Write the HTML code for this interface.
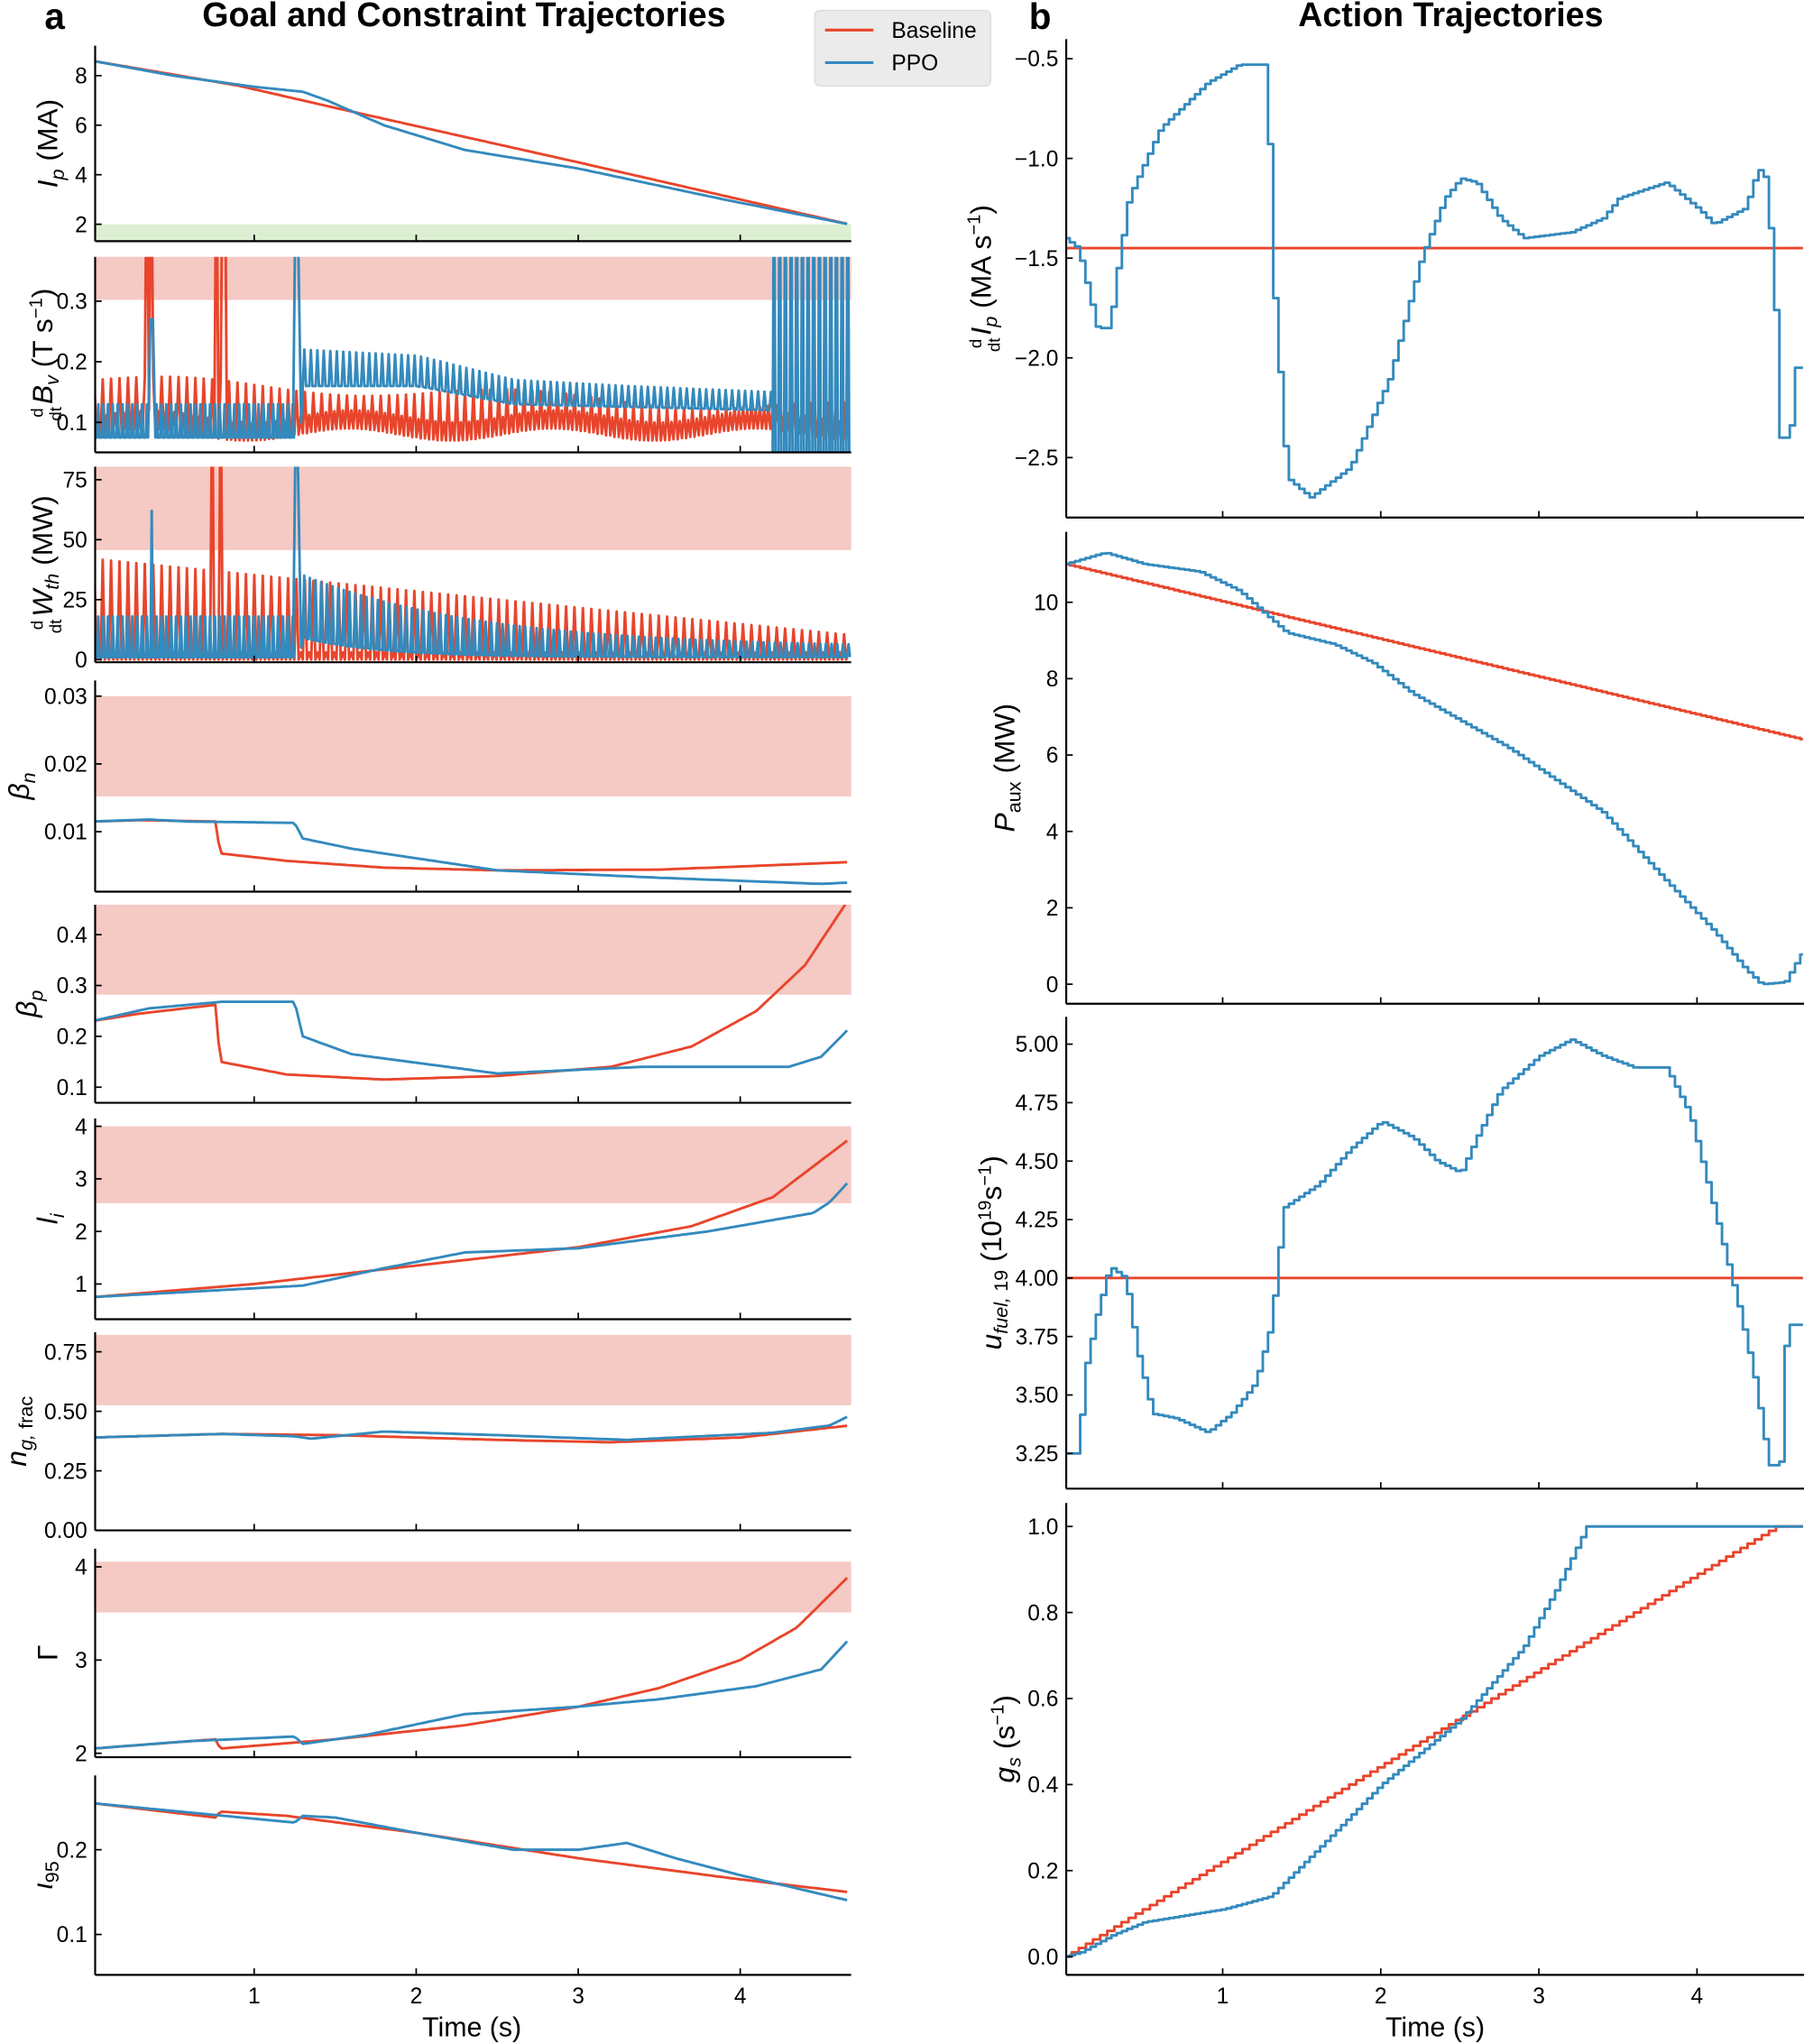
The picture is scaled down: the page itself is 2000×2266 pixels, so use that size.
<!DOCTYPE html>
<html><head><meta charset="utf-8"><style>
html,body{margin:0;padding:0;background:#fff;}
svg{display:block;font-family:"Liberation Sans","DejaVu Sans",sans-serif;}
</style></head><body>
<svg id="s" width="2000" height="2266" viewBox="0 0 1384 1568" xmlns="http://www.w3.org/2000/svg"></svg>
<script>
const R='#e8452c',B='#348abd',BAND='#f5c9c4',GREEN='#dcefd2';
let o='';
function lin(a,ya,b,yb){return v=>ya+(v-a)*(yb-ya)/(b-a);}
function ip(p,t){if(t<=p[0][0])return p[0][1];for(let i=1;i<p.length;i++){if(t<=p[i][0]){const a=p[i-1],b=p[i];return a[1]+(b[1]-a[1])*(t-a[0])/(b[0]-a[0]);}}return p[p.length-1][1];}
function smp(p,dt,T){const a=[];for(let t=0;t<=T+1e-9;t+=dt)a.push([t,ip(p,t)]);return a;}
function stp(p,dt,T){const a=[];for(let t=0;t<T;t+=dt){const v=ip(p,t);a.push([t,v],[Math.min(t+dt,T),v]);}return a;}
let cid=0;
const FR='<tspan font-size="13" dy="-7">d</tspan><tspan font-size="13" dx="-10" dy="14">dt</tspan><tspan dy="-7" dx="2" font-style="italic">';
function panel(c){
 const X=lin(0,c.tx0,1,c.tx0+c.pps), Y=lin(c.v1,c.y1,c.v2,c.y2);
 cid++;
 o+=`<clipPath id="c${cid}"><rect x="${c.x0}" y="${c.top}" width="${c.x1-c.x0}" height="${c.bot-c.top}"/></clipPath>`;
 (c.bands||[]).forEach(b=>{o+=`<rect x="${c.x0}" y="${b[0]}" width="${c.x1-c.x0}" height="${b[1]-b[0]}" fill="${b[2]||BAND}"/>`;});
 o+=`<g clip-path="url(#c${cid})" fill="none" stroke-width="2" stroke-linejoin="round">`;
 c.series.forEach(s=>{o+=`<path stroke="${s[1]}" d="M${s[0].map(p=>X(p[0]).toFixed(1)+','+Y(p[1]).toFixed(1)).join('L')}"/>`;});
 o+='</g>';
 o+=`<line x1="${c.x0}" y1="${c.top}" x2="${c.x0}" y2="${c.bot}" stroke="#000" stroke-width="1.5"/>`;
 o+=`<line x1="${c.x0}" y1="${c.bot}" x2="${c.x1}" y2="${c.bot}" stroke="#000" stroke-width="1.5"/>`;
 c.ticks.forEach(t=>{const y=Y(t[0]);o+=`<line x1="${c.x0}" y1="${y}" x2="${c.x0+5}" y2="${y}" stroke="#000" stroke-width="1.2"/><text x="${c.x0-6}" y="${y+6}" font-size="17" text-anchor="end">${t[1]}</text>`;});
 [1,2,3,4].forEach(t=>{const x=X(t);o+=`<line x1="${x}" y1="${c.bot}" x2="${x}" y2="${c.bot-5}" stroke="#000" stroke-width="1.2"/>`;if(c.xl)o+=`<text x="${x}" y="${c.bot+22}" font-size="17" text-anchor="middle">${t}</text>`;});
 o+=`<text transform="translate(${c.lx},${(c.top+c.bot)/2}) rotate(-90)" font-size="22" text-anchor="middle">${c.label}</text>`;
}
const T=4.67;
const L={x0:73,x1:653,tx0:70.7,pps:124.3};
function spiky(T0,T1,per,hi,lo,w){const a=[];for(let t=T0;t<T1;t+=per){a.push([t,lo(t)],[t+per*0.25,hi(t)],[t+per*0.5,lo(t)]);if(w)a.push([t+per*0.75,lo(t)+w]);}return a;}
panel({...L,lx:44,top:35,bot:185,v1:8,y1:58,v2:2,y2:172,bands:[[172,185,GREEN]],label:'<tspan font-style="italic">I</tspan><tspan font-style="italic" font-size="15" dy="5">p</tspan><tspan dy="-5"> (MA)</tspan>',
 ticks:[[2,'2'],[4,'4'],[6,'6'],[8,'8']],
 series:[[smp([[0,8.6],[0.9,7.6],[1.5,6.7],[3,4.5],[4,3.0],[4.67,2.0]],0.02,T),R],[smp([[0,8.6],[0.5,8.0],[1.0,7.55],[1.3,7.35],[1.45,7.0],[1.8,6.0],[2.3,5.0],[3,4.25],[3.9,3.0],[4.67,2.0]],0.02,T),B]]});
{let b=spiky(0,4.67,0.052,t=>0.17-0.01*t+0.01*Math.sin(t*3),t=>0.08+0.01*Math.sin(t*5),0.03);
 b=b.concat([[4.67,0.1]]);b.sort((a,c)=>a[0]-c[0]);
 b=b.map(p=>(Math.abs(p[0]-0.35)<0.02||(p[0]>0.74&&p[0]<0.82))?[p[0],p[0]%0.04<0.02?0.6:p[1]]:p);
 let p1=spiky(0,1.25,0.03,t=>0.13,t=>0.075,0);
 p1=p1.map(p=>Math.abs(p[0]-0.37)<0.015?[p[0],0.27]:p);
 let p2=[[1.24,0.08],[1.26,0.6],[1.29,0.1]].concat(spiky(1.3,4.2,0.04,t=>ip([[1.3,0.22],[2,0.21],[2.6,0.17],[3.3,0.16],[4.2,0.15]],t),t=>ip([[1.3,0.16],[2,0.16],[2.6,0.13],[4.2,0.12]],t),0));
 let p3=spiky(4.2,4.67,0.035,t=>0.6,t=>0.05,0);
 panel({...L,lx:40,top:197,bot:347,v1:0.3,y1:231,v2:0.1,y2:324,bands:[[197,230]],label:FR+'B</tspan><tspan font-style="italic" font-size="15" dy="5">v</tspan><tspan dy="-5"> (T s</tspan><tspan font-size="14" dy="-8">−1</tspan><tspan dy="8">)</tspan>',
 ticks:[[0.1,'0.1'],[0.2,'0.2'],[0.3,'0.3']],series:[[b,R],[p1.concat(p2,p3),B]]});}
{let b=spiky(0,4.67,0.052,t=>42-6.8*t,t=>0,3);
 b=b.map(p=>(Math.abs(p[0]-0.35)<0.02||(p[0]>0.74&&p[0]<0.82))&&p[1]>5?[p[0],120]:p);
 let p1=spiky(0,1.25,0.03,t=>18,t=>1,0).map(p=>Math.abs(p[0]-0.37)<0.015&&p[1]>5?[p[0],62]:p);
 let p2=[[1.24,2],[1.26,120],[1.29,5]].concat(spiky(1.3,4.67,0.035,t=>5+30*Math.exp(-(t-1.3)/1.1),t=>1+8*Math.exp(-(t-1.3)/0.5),0));
 panel({...L,lx:40,top:358,bot:508,v1:75,y1:368,v2:0,y2:506,bands:[[358,422]],label:FR+'W</tspan><tspan font-style="italic" font-size="15" dy="5">th</tspan><tspan dy="-5"> (MW)</tspan>',
 ticks:[[0,'0'],[25,'25'],[50,'50'],[75,'75']],series:[[b,R],[p1.concat(p2),B]]});}
panel({...L,lx:22,top:522,bot:684,v1:0.03,y1:534,v2:0.01,y2:638,bands:[[534,611]],label:'<tspan font-style="italic">β</tspan><tspan font-style="italic" font-size="15" dy="5">n</tspan>',
 ticks:[[0.01,'0.01'],[0.02,'0.02'],[0.03,'0.03']],
 series:[[smp([[0,0.0115],[0.3,0.0117],[0.76,0.0115],[0.79,0.0068],[1.2,0.0057],[1.8,0.0047],[2.5,0.0043],[3.5,0.0044],[4.67,0.0055]],0.02,T),R],
 [smp([[0,0.0115],[0.35,0.0118],[0.6,0.0115],[1.25,0.0113],[1.3,0.009],[1.6,0.0075],[2.5,0.0043],[3.5,0.0032],[4.5,0.0023],[4.67,0.0025]],0.02,T),B]]});
panel({...L,lx:28,top:694,bot:846,v1:0.4,y1:717,v2:0.1,y2:834,bands:[[694,763]],label:'<tspan font-style="italic">β</tspan><tspan font-style="italic" font-size="15" dy="5">p</tspan>',
 ticks:[[0.1,'0.1'],[0.2,'0.2'],[0.3,'0.3'],[0.4,'0.4']],
 series:[[smp([[0,0.23],[0.3,0.245],[0.76,0.262],[0.79,0.15],[1.2,0.125],[1.8,0.115],[2.5,0.122],[3.2,0.14],[3.7,0.18],[4.1,0.25],[4.4,0.34],[4.67,0.47]],0.02,T),R],
 [smp([[0,0.23],[0.35,0.255],[0.8,0.268],[1.25,0.268],[1.3,0.2],[1.6,0.165],[2.5,0.127],[3.4,0.14],[4.3,0.14],[4.5,0.16],[4.67,0.215]],0.02,T),B]]});
panel({...L,lx:44,top:858,bot:1012,v1:4,y1:864,v2:1,y2:985,bands:[[864,923]],label:'<tspan font-style="italic">l</tspan><tspan font-style="italic" font-size="15" dy="5">i</tspan>',
 ticks:[[1,'1'],[2,'2'],[3,'3'],[4,'4']],
 series:[[smp([[0,0.75],[1,1.0],[2,1.35],[3,1.7],[3.7,2.1],[4.2,2.65],[4.67,3.75]],0.02,T),R],
 [smp([[0,0.75],[1.3,0.97],[1.8,1.3],[2.3,1.6],[3,1.68],[3.8,2.0],[4.45,2.35],[4.55,2.55],[4.67,2.95]],0.02,T),B]]});
panel({...L,lx:20,top:1022,bot:1174,v1:0.75,y1:1037,v2:0,y2:1174,bands:[[1024,1078]],label:'<tspan font-style="italic">n</tspan><tspan font-style="italic" font-size="15" dy="5">g,</tspan><tspan font-size="15"> frac</tspan>',
 ticks:[[0,'0.00'],[0.25,'0.25'],[0.5,'0.50'],[0.75,'0.75']],
 series:[[smp([[0,0.39],[0.8,0.405],[1.5,0.4],[2.5,0.38],[3.2,0.37],[4,0.39],[4.67,0.44]],0.02,T),R],
 [smp([[0,0.39],[0.8,0.405],[1.25,0.395],[1.35,0.385],[1.8,0.415],[2.5,0.4],[3.3,0.38],[4.2,0.41],[4.55,0.44],[4.67,0.48]],0.02,T),B]]});
panel({...L,lx:44,top:1188,bot:1348,v1:4,y1:1202,v2:2,y2:1345,bands:[[1198,1237]],label:'Γ',
 ticks:[[2,'2'],[3,'3'],[4,'4']],
 series:[[smp([[0,2.05],[0.76,2.15],[0.79,2.05],[1.5,2.15],[2.3,2.3],[3,2.5],[3.5,2.7],[4,3.0],[4.35,3.35],[4.67,3.9]],0.02,T),R],
 [smp([[0,2.05],[0.6,2.13],[1.25,2.18],[1.3,2.1],[1.7,2.2],[2.3,2.42],[3,2.5],[3.5,2.58],[4.1,2.72],[4.5,2.9],[4.67,3.22]],0.02,T),B]]});
panel({...L,lx:40,top:1362,bot:1515,v1:0.2,y1:1419,v2:0.1,y2:1484,xl:true,label:'<tspan font-style="italic">ι</tspan><tspan font-size="15" dy="5">95</tspan>',
 ticks:[[0.1,'0.1'],[0.2,'0.2']],
 series:[[smp([[0,0.255],[0.76,0.238],[0.79,0.245],[1.2,0.24],[2,0.22],[3,0.19],[4,0.165],[4.67,0.15]],0.02,T),R],
 [smp([[0,0.255],[1.25,0.232],[1.3,0.24],[1.5,0.238],[2,0.22],[2.6,0.2],[3.0,0.2],[3.3,0.208],[3.6,0.19],[4,0.17],[4.67,0.14]],0.02,T),B]]});
const Rr={x0:818,x1:1384,tx0:816.7,pps:121.3};
const T2=4.67;
panel({...Rr,lx:760,top:30,bot:397,v1:-0.5,y1:45,v2:-2.5,y2:351,label:FR+'I</tspan><tspan font-style="italic" font-size="15" dy="5">p</tspan><tspan dy="-5"> (MA s</tspan><tspan font-size="14" dy="-8">−1</tspan><tspan dy="8">)</tspan>',
 ticks:[[-2.5,'−2.5'],[-2,'−2.0'],[-1.5,'−1.5'],[-1,'−1.0'],[-0.5,'−0.5']],
 series:[[[[0,-1.45],[T2,-1.45]],R],[stp([[0,-1.4],[0.08,-1.45],[0.2,-1.85],[0.28,-1.85],[0.32,-1.6],[0.4,-1.2],[0.6,-0.85],[0.9,-0.62],[1.1,-0.53],[1.27,-0.53],[1.32,-1.7],[1.4,-2.6],[1.55,-2.7],[1.8,-2.55],[2.05,-2.1],[2.25,-1.5],[2.4,-1.2],[2.5,-1.1],[2.6,-1.12],[2.75,-1.3],[2.9,-1.4],[3.2,-1.37],[3.4,-1.3],[3.5,-1.2],[3.8,-1.12],[4.0,-1.25],[4.1,-1.33],[4.3,-1.25],[4.38,-1.05],[4.43,-1.1],[4.48,-1.6],[4.52,-2.4],[4.58,-2.4],[4.62,-2.05],[4.67,-2.05]],0.033,T2),B]]});
panel({...Rr,lx:778,top:408,bot:770,v1:10,y1:462,v2:0,y2:755,label:'<tspan font-style="italic">P</tspan><tspan font-size="15" dy="5">aux</tspan><tspan dy="-5"> (MW)</tspan>',
 ticks:[[0,'0'],[2,'2'],[4,'4'],[6,'6'],[8,'8'],[10,'10']],
 series:[[stp([[0,11],[4.67,6.4]],0.033,T2),R],[stp([[0,11],[0.25,11.3],[0.5,11.0],[0.85,10.8],[1.1,10.3],[1.4,9.2],[1.7,8.9],[1.95,8.4],[2.2,7.6],[2.8,6.2],[3.4,4.5],[3.8,2.7],[4.1,1.4],[4.3,0.4],[4.4,0],[4.55,0.05],[4.67,0.9]],0.033,T2),B]]});
panel({...Rr,lx:768,top:780,bot:1142,v1:5,y1:801,v2:3.25,y2:1115,label:'<tspan font-style="italic">u</tspan><tspan font-style="italic" font-size="15" dy="5">fuel,</tspan><tspan font-size="15"> 19</tspan><tspan dy="-5"> (10</tspan><tspan font-size="14" dy="-8">19</tspan><tspan dy="8">s</tspan><tspan font-size="14" dy="-8">−1</tspan><tspan dy="8">)</tspan>',
 ticks:[[3.25,'3.25'],[3.5,'3.50'],[3.75,'3.75'],[4,'4.00'],[4.25,'4.25'],[4.5,'4.50'],[4.75,'4.75'],[5,'5.00']],
 series:[[[[0,4.0],[T2,4.0]],R],[stp([[0,3.25],[0.08,3.25],[0.12,3.6],[0.2,3.85],[0.28,4.05],[0.38,4.0],[0.45,3.7],[0.55,3.42],[0.7,3.4],[0.9,3.34],[1.05,3.42],[1.2,3.55],[1.3,3.8],[1.38,4.3],[1.6,4.4],[1.8,4.55],[2.0,4.67],[2.2,4.6],[2.35,4.5],[2.5,4.45],[2.6,4.6],[2.75,4.8],[3.0,4.95],[3.2,5.02],[3.4,4.95],[3.6,4.9],[3.8,4.9],[3.95,4.7],[4.1,4.3],[4.25,3.9],[4.35,3.6],[4.45,3.2],[4.52,3.2],[4.56,3.8],[4.67,3.8]],0.033,T2),B]]});
panel({...Rr,lx:778,top:1153,bot:1515,v1:1,y1:1171,v2:0,y2:1501,xl:true,label:'<tspan font-style="italic">g</tspan><tspan font-style="italic" font-size="15" dy="5">s</tspan><tspan dy="-5"> (s</tspan><tspan font-size="14" dy="-8">−1</tspan><tspan dy="8">)</tspan>',
 ticks:[[0,'0.0'],[0.2,'0.2'],[0.4,'0.4'],[0.6,'0.6'],[0.8,'0.8'],[1,'1.0']],
 series:[[stp([[0,0],[4.5,1.0],[4.67,1.0]],0.045,T2),R],[stp([[0,0],[0.1,0.01],[0.3,0.05],[0.5,0.08],[1.0,0.11],[1.3,0.14],[1.6,0.25],[2.0,0.4],[2.5,0.55],[2.9,0.72],[3.1,0.85],[3.3,1.0],[4.67,1.0]],0.033,T2),B]]});
o+=`<text x="42" y="22" font-size="28" font-weight="bold" text-anchor="middle">a</text>`;
o+=`<text x="356" y="20" font-size="26" font-weight="bold" text-anchor="middle">Goal and Constraint Trajectories</text>`;
o+=`<text x="798" y="22" font-size="28" font-weight="bold" text-anchor="middle">b</text>`;
o+=`<text x="1113" y="20" font-size="26" font-weight="bold" text-anchor="middle">Action Trajectories</text>`;
o+=`<text x="362" y="1562" font-size="21" text-anchor="middle">Time (s)</text>`;
o+=`<text x="1101" y="1562" font-size="21" text-anchor="middle">Time (s)</text>`;
o+=`<rect x="625" y="8" width="135" height="58" rx="4" fill="#ebebeb" stroke="#ddd"/>`;
o+=`<line x1="633" y1="23" x2="670" y2="23" stroke="${R}" stroke-width="2.2"/><text x="684" y="29" font-size="17">Baseline</text>`;
o+=`<line x1="633" y1="48" x2="670" y2="48" stroke="${B}" stroke-width="2.2"/><text x="684" y="54" font-size="17">PPO</text>`;
document.getElementById('s').innerHTML=o;
</script>
</body></html>
